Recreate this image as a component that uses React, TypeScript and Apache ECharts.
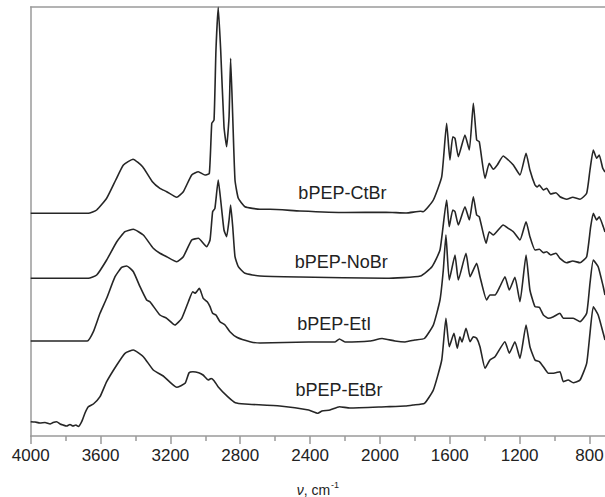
import React, { useEffect, useRef } from "react";
import * as echarts from "echarts";

// Wavenumber (cm^-1) / absorbance (arbitrary units, stacked offsets included)
const ctbrWn = [4000, 3670, 3622, 3565, 3513, 3469, 3414, 3359, 3303, 3260, 3221, 3164, 3126, 3078, 3040, 3002, 2977, 2963, 2950, 2939, 2926, 2912, 2893, 2878, 2864, 2855, 2843, 2830, 2811, 2773, 2687, 2630, 2458, 2200, 1965, 1850, 1768, 1752, 1694, 1646, 1618, 1599, 1583, 1570, 1551, 1513, 1488, 1465, 1446, 1431, 1398, 1374, 1351, 1328, 1294, 1265, 1236, 1198, 1163, 1141, 1112, 1100, 1087, 1064, 1045, 1022, 992, 969, 930, 896, 854, 816, 797, 778, 759, 744, 724, 711];
const ctbrAbs = [222.7, 222.7, 226, 237.7, 256, 271, 276.7, 269.3, 254.3, 247.7, 244.3, 238.7, 244.3, 261, 264.3, 261, 262.7, 312.7, 316, 386, 428.7, 386, 309.3, 289.3, 319.3, 377.7, 319.3, 256, 237.7, 229.3, 226.7, 226.7, 225, 223.5, 223.7, 223, 224.7, 224.3, 236, 259.3, 312.7, 276, 299.3, 297.7, 279.3, 301, 286, 332.7, 296, 294.3, 257.7, 272.7, 266.7, 271, 280, 276, 271, 261, 282.7, 266, 251, 249, 251, 246, 247.7, 242, 243.3, 239.3, 236.7, 238.7, 236.7, 242.7, 266, 286, 277.7, 281, 267.7, 264];

const nobrWn = [4000, 3670, 3622, 3565, 3507, 3460, 3412, 3355, 3298, 3260, 3221, 3164, 3126, 3078, 3040, 2992, 2973, 2958, 2945, 2926, 2912, 2893, 2878, 2864, 2855, 2843, 2830, 2811, 2773, 2687, 2458, 1965, 1768, 1702, 1656, 1618, 1603, 1583, 1570, 1551, 1513, 1488, 1465, 1446, 1431, 1392, 1374, 1351, 1294, 1265, 1236, 1198, 1163, 1141, 1112, 1087, 1064, 1045, 1022, 992, 969, 930, 896, 854, 816, 793, 778, 759, 744, 721, 711];
const nobrAbs = [157.7, 157.7, 161, 176, 194.3, 204.3, 206.7, 201, 187.7, 182.7, 179.3, 174.3, 179.3, 196, 197.7, 189.3, 196, 224.3, 227.7, 256, 236, 206, 199.3, 216, 231, 209.3, 179.3, 169.3, 162.7, 160, 159, 157.7, 160, 169.3, 186, 236, 209.3, 226, 224.3, 211, 229.3, 216, 239.3, 221, 219.3, 192.7, 204.3, 201, 211, 207.7, 204.3, 196, 214.3, 199.3, 186, 186.7, 183.3, 184.3, 181, 182.7, 177.7, 173.3, 175, 173.3, 179.3, 209.3, 222.7, 216, 219.3, 209.3, 204];

const etiWn = [4000, 3676, 3641, 3603, 3565, 3517, 3479, 3450, 3412, 3374, 3336, 3317, 3260, 3221, 3174, 3135, 3097, 3072, 3059, 3034, 3012, 2989, 2973, 2958, 2939, 2916, 2887, 2859, 2820, 2744, 2687, 2408, 2257, 2232, 2200, 2057, 1988, 1914, 1856, 1800, 1745, 1694, 1656, 1637, 1622, 1603, 1570, 1551, 1507, 1484, 1446, 1427, 1389, 1370, 1341, 1313, 1284, 1259, 1227, 1198, 1163, 1141, 1112, 1087, 1064, 1035, 1006, 969, 950, 893, 854, 816, 797, 778, 750, 721, 711];
const etiAbs = [95, 95, 104.3, 122.7, 137.7, 159.3, 168.7, 170, 164.3, 149.3, 136, 134.3, 121, 117.7, 111, 117.7, 134.3, 144.3, 142.7, 147.7, 137.7, 134.3, 129.3, 122.7, 121, 114.3, 111, 104.3, 98.7, 94.3, 93, 94, 94, 97, 94, 95, 97.5, 95, 94, 96, 97.5, 111, 136, 166, 201, 156, 181, 156, 182.7, 159.3, 172.7, 159.3, 136, 141, 141, 149.3, 159.3, 146, 158.7, 134.3, 181, 146, 129.3, 128.7, 121, 117.7, 119.3, 122.7, 117.7, 117.7, 114.3, 122.7, 152.7, 176, 169.3, 149.3, 141];

const etbrWn = [4000, 3975, 3947, 3918, 3889, 3872, 3851, 3832, 3815, 3794, 3775, 3758, 3741, 3727, 3708, 3689, 3670, 3641, 3603, 3565, 3507, 3460, 3412, 3355, 3298, 3241, 3164, 3116, 3093, 3071, 3038, 3013, 2983, 2967, 2950, 2927, 2872, 2828, 2773, 2573, 2408, 2355, 2332, 2286, 2232, 2172, 1965, 1856, 1810, 1745, 1694, 1646, 1622, 1603, 1576, 1557, 1542, 1530, 1507, 1484, 1465, 1446, 1427, 1398, 1370, 1341, 1284, 1259, 1227, 1198, 1163, 1141, 1112, 1087, 1064, 1035, 1006, 969, 950, 922, 893, 854, 816, 797, 778, 750, 721, 711];
const etbrAbs = [14.3, 14, 13, 13.5, 12, 13.5, 14.3, 12, 11, 10, 11.5, 10, 11, 9.5, 14.3, 23, 29.3, 32, 39.3, 54.3, 71, 82.7, 86, 79.3, 66, 60, 48.7, 52.7, 63.3, 64.3, 63.3, 61, 56, 57.5, 55.3, 49.3, 39.3, 33.3, 32, 30, 26, 22.7, 25, 26, 29.3, 28, 29.3, 30, 31, 32.7, 46, 76, 117.7, 89.3, 102.7, 87.7, 99.3, 94, 107.7, 94.3, 99.3, 97.7, 89.3, 67.7, 76, 79.3, 94.3, 82.7, 94.3, 77.7, 111, 89.3, 76, 74.3, 69.3, 62.7, 62.7, 64.3, 54.3, 56, 53.3, 56, 72.7, 102.7, 129.3, 121, 102.7, 96];

const seriesNames = ["bPEP-CtBr", "bPEP-NoBr", "bPEP-EtI", "bPEP-EtBr"];
// label anchor positions in data coordinates [wavenumber, absorbance]
const labelAnchors = [
  [2215, 243],
  [2222, 174],
  [2262, 112],
  [2235, 46],
];

const majorTicks = [4000, 3600, 3200, 2800, 2400, 2000, 1600, 1200, 800];
const minorTicks = [3800, 3400, 3000, 2600, 2200, 1800, 1400, 1000];

const X_MIN = 711;
const X_MAX = 4000;
const Y_MAX = 429;

function zip(a: number[], b: number[]) {
  return a.map((v, i) => [v, b[i]]);
}

export default function App() {
  const ref = useRef<HTMLDivElement>(null);
  useEffect(() => {
    if (!ref.current) return;
    const chart = echarts.init(ref.current, undefined, { renderer: "svg" });
    const lineColor = "#262626";
    const axisColor = "#9a9a9a";
    const font = "'Liberation Sans', Arial, Helvetica, sans-serif";
    const wns = [ctbrWn, nobrWn, etiWn, etbrWn];
    const abss = [ctbrAbs, nobrAbs, etiAbs, etbrAbs];
    chart.setOption({
      animation: false,
      backgroundColor: "#ffffff",
      grid: { left: 30.7, right: 0, top: 7, bottom: 61, containLabel: false, outerBoundsMode: "none" },
      xAxis: [
        {
          type: "value",
          min: X_MIN,
          max: X_MAX,
          inverse: true,
          position: "bottom",
          name: "{i|ν}{n|, cm}{s|-1}",
          nameLocation: "middle",
          nameGap: 44,
          nameTextStyle: {
            rich: {
              i: { fontFamily: font, fontStyle: "italic", fontSize: 14, color: "#222", verticalAlign: "bottom" },
              n: { fontFamily: font, fontSize: 14, color: "#222", verticalAlign: "bottom" },
              s: { fontFamily: font, fontSize: 9, color: "#222", verticalAlign: "bottom", padding: [0, 0, 8, 1] },
            },
          },
          axisLine: { show: true, lineStyle: { color: axisColor, width: 1.5 } },
          axisTick: { show: true, length: 8, customValues: majorTicks, lineStyle: { color: axisColor, width: 1.5 } },
          axisLabel: {
            show: true,
            customValues: majorTicks,
            formatter: (v: number) => String(v),
            fontFamily: font,
            fontSize: 17,
            color: "#222",
            margin: 11,
            hideOverlap: false,
          },
          splitLine: { show: false },
        },
        {
          type: "value",
          min: X_MIN,
          max: X_MAX,
          inverse: true,
          position: "bottom",
          axisLine: { show: false },
          axisTick: { show: true, length: 5, customValues: minorTicks, lineStyle: { color: axisColor, width: 1.5 } },
          axisLabel: { show: false },
          splitLine: { show: false },
        },
        {
          type: "value",
          min: X_MIN,
          max: X_MAX,
          inverse: true,
          position: "top",
          axisLine: { show: true, lineStyle: { color: axisColor, width: 1.5 } },
          axisTick: { show: false },
          axisLabel: { show: false },
          splitLine: { show: false },
        },
      ],
      yAxis: {
        type: "value",
        min: 0,
        max: Y_MAX,
        axisLine: { show: true, lineStyle: { color: axisColor, width: 1.5 } },
        axisTick: { show: false },
        axisLabel: { show: false },
        splitLine: { show: false },
      },
      series: seriesNames.map((name, k) => ({
        name,
        type: "line",
        xAxisIndex: 0,
        data: zip(wns[k], abss[k]),
        showSymbol: false,
        symbol: "none",
        smooth: 0.15,
        clip: false,
        lineStyle: { color: lineColor, width: 1.6 },
        markPoint: {
          silent: true,
          symbol: "circle",
          symbolSize: 0,
          data: [
            {
              coord: labelAnchors[k],
              label: {
                show: true,
                position: "inside",
                formatter: name,
                fontFamily: font,
                fontSize: 18,
                color: "#222",
              },
            },
          ],
        },
      })),
    });
    return () => chart.dispose();
  }, []);
  return (
    <div
      ref={ref}
      style={{ position: "fixed", left: 0, top: 0, width: 605, height: 497, background: "#fff" }}
    />
  );
}
